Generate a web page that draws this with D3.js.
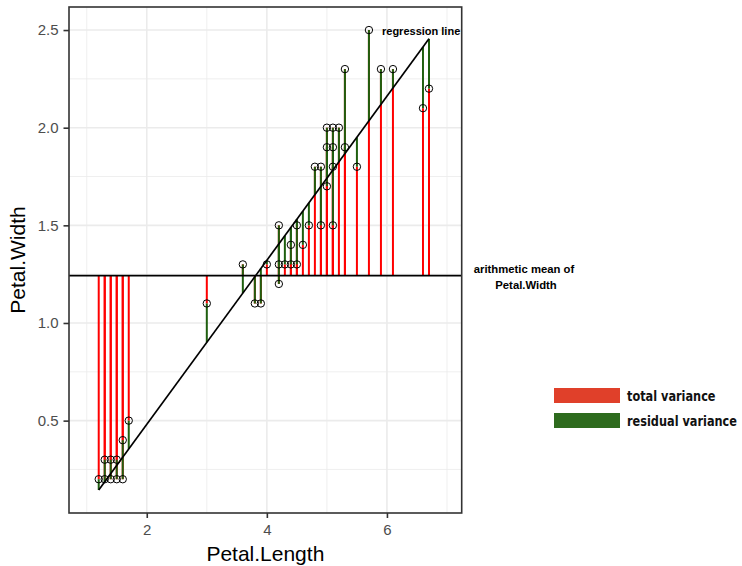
<!DOCTYPE html>
<html>
<head>
<meta charset="utf-8">
<script src="https://cdn.jsdelivr.net/npm/d3@7"></script>
<style>
  body { margin: 0; background: #fff; }
  svg { display: block; }
</style>
</head>
<body>
<svg id="chart" width="742" height="566"></svg>
<script>
var petalLength = [1.2, 1.3, 1.4, 1.5, 1.6, 1.3, 1.4, 1.5, 1.6, 1.7,
                   3.0, 3.6, 3.8, 3.9, 4.0, 4.2, 4.2, 4.2, 4.3, 4.4,
                   4.4, 4.5, 4.5, 4.6, 4.7, 4.8, 4.9, 4.9, 5.0, 5.0,
                   5.0, 5.1, 5.1, 5.1, 5.1, 5.2, 5.3, 5.3, 5.5, 5.7,
                   5.9, 6.1, 6.6, 6.7]
var petalWidth  = [0.2, 0.2, 0.2, 0.2, 0.2, 0.3, 0.3, 0.3, 0.4, 0.5,
                   1.1, 1.3, 1.1, 1.1, 1.3, 1.5, 1.3, 1.2, 1.3, 1.3,
                   1.4, 1.3, 1.5, 1.4, 1.5, 1.8, 1.8, 1.5, 1.7, 1.9,
                   2.0, 1.5, 1.8, 1.9, 2.0, 2.0, 1.9, 2.3, 1.8, 2.5,
                   2.3, 2.3, 2.1, 2.2]

var meanWidth = 1.242          // horizontal line
var regIntercept = -0.359      // fitted line
var regSlope = 0.42

var xTicks = [2, 4, 6]
var xMinor = [1, 3, 5, 7]
var yTicks = [0.5, 1.0, 1.5, 2.0, 2.5]
var yMinor = [0.25, 0.75, 1.25, 1.75, 2.25]

var legendLabels = ["total variance", "residual variance"]
var legendColors = ["#E0402A", "#2E6B1E"]

var dims = { left: 69, right: 461.7, top: 7, bottom: 513 }

var data = petalLength.map((d, i) => ({ x: d, y: petalWidth[i], fit: regIntercept + regSlope * d }))

var svg = d3.select("#chart")

var xScale = d3.scaleLinear().domain([0.705, 7.245]).range([dims.left, dims.right])
var yScale = d3.scaleLinear().domain([0.027, 2.618]).range([dims.bottom, dims.top])

// panel background + grid
svg.append("rect")
    .attr("x", dims.left).attr("y", dims.top)
    .attr("width", dims.right - dims.left).attr("height", dims.bottom - dims.top)
    .attr("fill", "white")

var grid = svg.append("g")
grid.selectAll(".xminor").data(xMinor).enter().append("line")
    .attr("x1", d => xScale(d)).attr("x2", d => xScale(d))
    .attr("y1", dims.top).attr("y2", dims.bottom)
    .attr("stroke", "#EBEBEB").attr("stroke-width", 0.8)
grid.selectAll(".yminor").data(yMinor).enter().append("line")
    .attr("y1", d => yScale(d)).attr("y2", d => yScale(d))
    .attr("x1", dims.left).attr("x2", dims.right)
    .attr("stroke", "#EBEBEB").attr("stroke-width", 0.8)
grid.selectAll(".xmajor").data(xTicks).enter().append("line")
    .attr("x1", d => xScale(d)).attr("x2", d => xScale(d))
    .attr("y1", dims.top).attr("y2", dims.bottom)
    .attr("stroke", "#EBEBEB").attr("stroke-width", 1.6)
grid.selectAll(".ymajor").data(yTicks).enter().append("line")
    .attr("y1", d => yScale(d)).attr("y2", d => yScale(d))
    .attr("x1", dims.left).attr("x2", dims.right)
    .attr("stroke", "#EBEBEB").attr("stroke-width", 1.6)

// total variance: mean -> point
svg.append("g").selectAll("line").data(data).enter().append("line")
    .attr("x1", d => xScale(d.x)).attr("x2", d => xScale(d.x))
    .attr("y1", yScale(meanWidth)).attr("y2", d => yScale(d.y))
    .attr("stroke", "#FF0000").attr("stroke-width", 2)

// residual variance: point -> fitted
svg.append("g").selectAll("line").data(data).enter().append("line")
    .attr("x1", d => xScale(d.x)).attr("x2", d => xScale(d.x))
    .attr("y1", d => yScale(d.y)).attr("y2", d => yScale(d.fit))
    .attr("stroke", "#1F5F0F").attr("stroke-width", 2)

// regression line
var xExt = d3.extent(petalLength)
svg.append("line")
    .attr("x1", xScale(xExt[0])).attr("y1", yScale(regIntercept + regSlope * xExt[0]))
    .attr("x2", xScale(xExt[1])).attr("y2", yScale(regIntercept + regSlope * xExt[1]))
    .attr("stroke", "black").attr("stroke-width", 1.7)

// mean line
svg.append("line")
    .attr("x1", dims.left).attr("x2", dims.right)
    .attr("y1", yScale(meanWidth)).attr("y2", yScale(meanWidth))
    .attr("stroke", "black").attr("stroke-width", 1.7)

// points
svg.append("g").selectAll("circle").data(data).enter().append("circle")
    .attr("cx", d => xScale(d.x)).attr("cy", d => yScale(d.y))
    .attr("r", 3.7)
    .attr("fill", "none").attr("stroke", "black").attr("stroke-width", 1)

// annotation inside panel
svg.append("text")
    .attr("x", 382).attr("y", yScale(2.5) + 4.5)
    .attr("font-family", "Liberation Sans, Arial, sans-serif")
    .attr("font-weight", "bold").attr("font-size", 11)
    .text("regression line")

// panel border
svg.append("rect")
    .attr("x", dims.left).attr("y", dims.top)
    .attr("width", dims.right - dims.left).attr("height", dims.bottom - dims.top)
    .attr("fill", "none").attr("stroke", "#333333").attr("stroke-width", 1.6)

// axes
var xAxisGen = d3.axisBottom(xScale).tickValues(xTicks).tickSize(5).tickPadding(6).tickFormat(d3.format("d"))
var xAxis = svg.append("g")
    .attr("transform", `translate(0, ${dims.bottom})`)
    .call(xAxisGen)
xAxis.select(".domain").remove()
xAxis.selectAll(".tick line").attr("stroke", "#333333").attr("stroke-width", 1.6)
xAxis.selectAll(".tick text").attr("fill", "#4D4D4D").attr("font-size", 15)
    .attr("font-family", "Liberation Sans, Arial, sans-serif")

var yAxisGen = d3.axisLeft(yScale).tickValues(yTicks).tickSize(5.5).tickPadding(5).tickFormat(d3.format(".1f"))
var yAxis = svg.append("g")
    .attr("transform", `translate(${dims.left}, 0)`)
    .call(yAxisGen)
yAxis.select(".domain").remove()
yAxis.selectAll(".tick line").attr("stroke", "#333333").attr("stroke-width", 1.6)
yAxis.selectAll(".tick text").attr("fill", "#4D4D4D").attr("font-size", 15)
    .attr("font-family", "Liberation Sans, Arial, sans-serif")

svg.append("text")
    .attr("x", (dims.left + dims.right) / 2).attr("y", 561)
    .attr("text-anchor", "middle")
    .attr("font-family", "Liberation Sans, Arial, sans-serif").attr("font-size", 21)
    .text("Petal.Length")

svg.append("text")
    .attr("transform", `translate(25, ${(dims.top + dims.bottom) / 2}) rotate(-90)`)
    .attr("text-anchor", "middle")
    .attr("font-family", "Liberation Sans, Arial, sans-serif").attr("font-size", 21)
    .text("Petal.Width")

// mean annotation outside panel
var meanNote = svg.append("text")
    .attr("font-family", "Liberation Sans, Arial, sans-serif")
    .attr("font-weight", "bold").attr("font-size", 11.3)
    .attr("text-anchor", "middle")
meanNote.append("tspan").attr("x", 524).attr("y", 272.5).text("arithmetic mean of")
meanNote.append("tspan").attr("x", 526).attr("y", 288.5).text("Petal.Width")

// legend
var legend = svg.append("g").attr("transform", "translate(554, 388)")
legend.selectAll("rect").data(legendLabels).enter().append("rect")
    .attr("x", 0).attr("y", (d, i) => i * 25)
    .attr("width", 66).attr("height", 15)
    .attr("fill", (d, i) => legendColors[i])
// narrow, heavy hand-drawn look: squeeze the text horizontally
legend.selectAll("text").data(legendLabels).enter().append("text")
    .attr("transform", (d, i) => `translate(73, ${i * 25 + 13}) scale(0.78, 1)`)
    .attr("font-family", "DejaVu Sans, sans-serif")
    .attr("font-weight", "bold")
    .attr("font-size", 14.5)
    .attr("fill", "#111")
    .text(d => d)
</script>
</body>
</html>
